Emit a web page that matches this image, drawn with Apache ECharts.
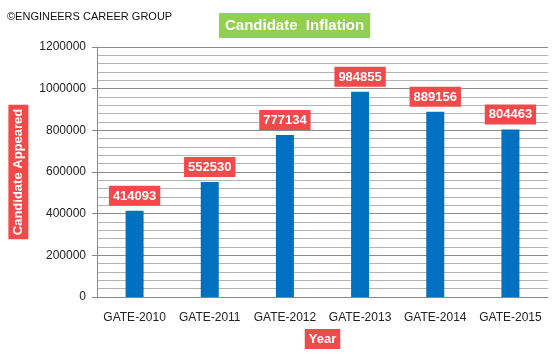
<!DOCTYPE html>
<html>
<head>
<meta charset="utf-8">
<script src="https://cdn.jsdelivr.net/npm/echarts@6/dist/echarts.min.js"></script>
<style>
  html, body { margin: 0; padding: 0; background: #fff; }
  #echarts-container { width: 558px; height: 354px; }
</style>
</head>
<body>
<div id="echarts-container"></div>
<script>
var years = ['GATE-2010', 'GATE-2011', 'GATE-2012', 'GATE-2013', 'GATE-2014', 'GATE-2015'];
var appeared = [414093, 552530, 777134, 984855, 889156, 804463];
var yTicks = [0, 200000, 400000, 600000, 800000, 1000000, 1200000];

var font = 'Liberation Sans';
var red = '#f24a4a';

var dom = document.getElementById('echarts-container');
var myChart = echarts.init(dom);
var option = {
  animation: false,
  textStyle: { fontFamily: font },
  title: [
    {
      text: '©ENGINEERS CAREER GROUP',
      left: 2, top: 6,
      textStyle: { fontSize: 11, fontWeight: 'normal', color: '#111', fontFamily: font }
    },
    {
      text: 'Candidate  Inflation',
      left: 219, top: 13,
      backgroundColor: '#92d050',
      padding: [5, 6, 5, 6],
      textStyle: { fontSize: 15, fontWeight: 'bold', color: '#fff', fontFamily: font }
    }
  ],
  grid: { left: 97, right: 10, top: 47, bottom: 57, containLabel: false, outerBoundsMode: 'none' },
  xAxis: {
    type: 'category',
    data: years,
    name: 'Year',
    nameLocation: 'middle',
    nameGap: 32,
    nameTextStyle: {
      color: '#fff', fontWeight: 'bold', fontSize: 13,
      backgroundColor: red, padding: [4, 4, 3, 4]
    },
    axisLine: { lineStyle: { color: '#888' } },
    axisTick: { show: false },
    axisLabel: { color: '#222', fontSize: 12, margin: 15, interval: 0 }
  },
  yAxis: {
    type: 'value',
    min: yTicks[0],
    max: yTicks[yTicks.length - 1],
    interval: 200000,
    name: 'Candidate Appeared',
    nameLocation: 'middle',
    nameGap: 67,
    nameRotate: 90,
    nameTextStyle: {
      color: '#fff', fontWeight: 'bold', fontSize: 13,
      backgroundColor: red, padding: [4, 4, 3, 4]
    },
    axisLine: { show: true, lineStyle: { color: '#888' } },
    axisTick: { show: true, length: 5, lineStyle: { color: '#888' } },
    axisLabel: { color: '#222', fontSize: 12, margin: 11, formatter: function (v) { return String(v); } },
    splitLine: { lineStyle: { color: '#8c8c8c' } },
    minorTick: { show: false, splitNumber: 5 },
    minorSplitLine: { show: true, lineStyle: { color: '#b4b4b4' } }
  },
  series: [{
    type: 'bar',
    data: appeared,
    barWidth: 18,
    itemStyle: { color: '#0070c0' },
    label: {
      show: true,
      position: 'top',
      distance: 5,
      color: '#fff',
      fontWeight: 'bold',
      fontSize: 13,
      backgroundColor: red,
      padding: [4, 4, 3, 4]
    }
  }]
};
myChart.setOption(option);
window.addEventListener('resize', myChart.resize);
</script>
</body>
</html>
